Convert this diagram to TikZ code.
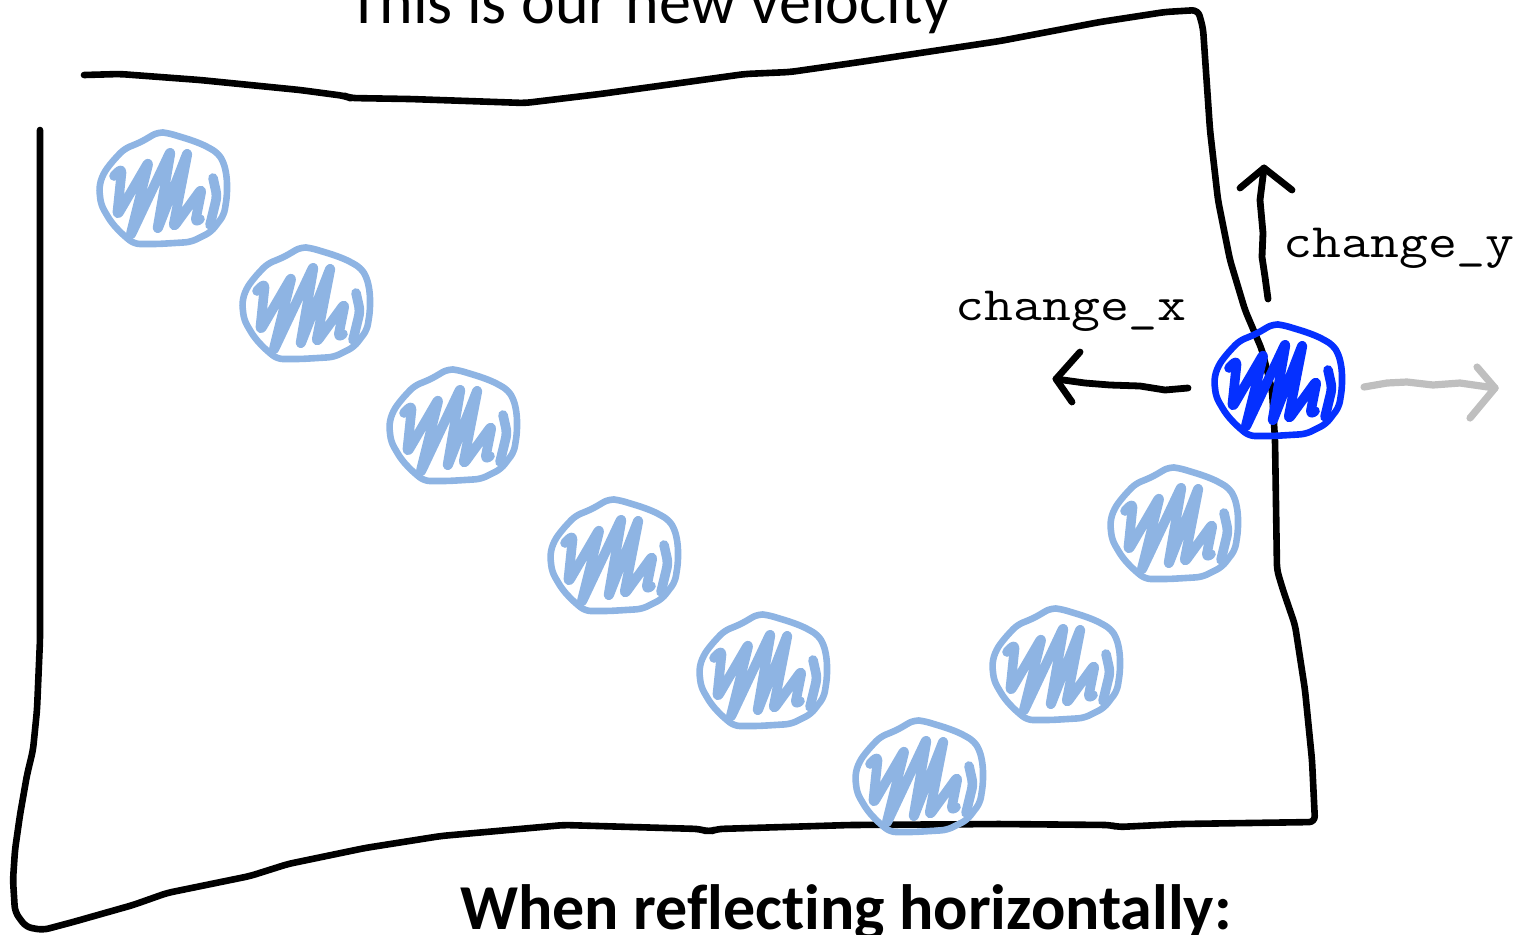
\documentclass[tikz,border=0pt]{standalone}
\usepackage{fontspec}
\setmainfont{Carlito}[Ligatures=NoCommon]
\setmonofont{Latin Modern Mono}[FakeStretch=1.17]
\definecolor{lightball}{HTML}{8EB4E3}
\definecolor{darkball}{HTML}{0530FF}
\definecolor{ghost}{HTML}{BFBFBF}
\tikzset{
  wall/.style={line width=3.3pt, line join=round, line cap=round, rounded corners=3pt},
  ballpath/.style={line width=3.3pt, line join=round, line cap=round, rounded corners=3pt},
  scrib/.style={line width=4.8pt, line join=round, line cap=round, rounded corners=2.5pt},
  hand/.style={line width=3.4pt, line cap=round, line join=round},
  headline/.style={font=\fontsize{32}{38}\selectfont, inner sep=0pt},
  codelabel/.style={font=\ttfamily\fontsize{24}{28}\selectfont, inner sep=0pt, anchor=base west},
  ball/.pic={
    \draw[ballpath] (-3,-56) -- (7,-55) -- (30,-48) -- (43,-43) -- (57,-35) -- (63,-25) -- (66,-10) -- (66,8) -- (63,27) -- (50,44) -- (30,54) -- (-3,56) -- (-27,56) -- (-40,45) -- (-50,34) -- (-60,17) -- (-62,-1) -- (-58,-14) -- (-50,-25) -- (-37,-39) -- (-20,-46) -- cycle;
    \draw[scrib] (-47,-12) -- (-39,-20) -- (-44,28) -- (-12,-27) -- (-31,49) -- (10,-38) -- (-4,43) -- (27,-37) -- (12,40) -- (41,0) -- (34,35) -- (39,31);
    \draw[scrib] (52,-10) -- (56,8) -- (49,37);
  }
}
\begin{document}
\begin{tikzpicture}[x=0.5pt,y=-0.5pt]
\useasboundingbox (0,0) rectangle (1531,934);

% box outline
\draw[wall] (84,75) -- (120,74) -- (200,80) -- (300,90) -- (345,96) -- (350,98) -- (410,99) -- (525,103) -- (600,94) -- (680,83) -- (745,74) -- (790,72) -- (860,62) -- (1000,41) -- (1100,22) -- (1165,12) -- (1198,10) -- (1203,28) -- (1210,130) -- (1218,200) -- (1230,260) -- (1245,310) -- (1262,350) -- (1272,390) -- (1275,440) -- (1277,570) -- (1283,590) -- (1295,625) -- (1305,690) -- (1312,760) -- (1315,822) -- (1180,824) -- (1118,827) -- (1110,825) -- (1000,824) -- (850,825) -- (717,829) -- (709,832) -- (700,829) -- (564,825) -- (441,836) -- (365,848) -- (288,864) -- (250,876) -- (167,893) -- (133,905) -- (73,922) -- (43,930) -- (26,927) -- (15,912) -- (13,880) -- (15,850) -- (20,815) -- (27,775) -- (33,750) -- (37,710) -- (40,640) -- (40,130);

% balls
\pic[color=lightball] (b1) at (161,188) {ball};
\pic[color=lightball] (b2) at (304,303) {ball};
\pic[color=lightball] (b3) at (451,425) {ball};
\pic[color=lightball] (b4) at (612,555) {ball};
\pic[color=lightball] (b5) at (761,670) {ball};
\pic[color=lightball] (b6) at (917,776) {ball};
\pic[color=lightball] (b7) at (1054,664) {ball};
\pic[color=lightball] (b8) at (1172,523) {ball};
\pic[color=darkball] (b9) at (1276,380) {ball};

% arrows
\coordinate (xs) at (1188,388);
\coordinate (xe) at (1056,379);
\draw[hand] (xs) -- (1165,390) -- (1140,386) -- (1110,385) -- (1085,383) -- (xe);
\draw[hand] (1080,352) -- (xe) -- (1072,402);

\coordinate (ys) at (1268,299);
\coordinate (ye) at (1264,168);
\draw[hand] (ys) -- (1265,277) -- (1262,257) -- (1263,233) -- (1260,200) -- (ye);
\draw[hand] (1240,188) -- (ye) -- (1292,190);

\coordinate (gs) at (1364,387);
\coordinate (ge) at (1495,388);
\draw[hand, ghost, line width=3.6pt] (gs) -- (1387,383) -- (1407,382) -- (1433,385) -- (1460,383) -- (ge);
\draw[hand, ghost, line width=3.6pt] (1477,367) -- (ge) -- (1470,418);

% labels
\node[codelabel] (lx) at (955,320) {change\_x};
\node[codelabel] (ly) at (1283,257) {change\_y};
\node[headline, anchor=base] (top) at (650,23) {This is our new velocity};
\node[headline, anchor=base, font=\bfseries\fontsize{32}{38}\selectfont] (bottom) at (846,929) {When reflecting horizontally:};
\end{tikzpicture}
\end{document}
